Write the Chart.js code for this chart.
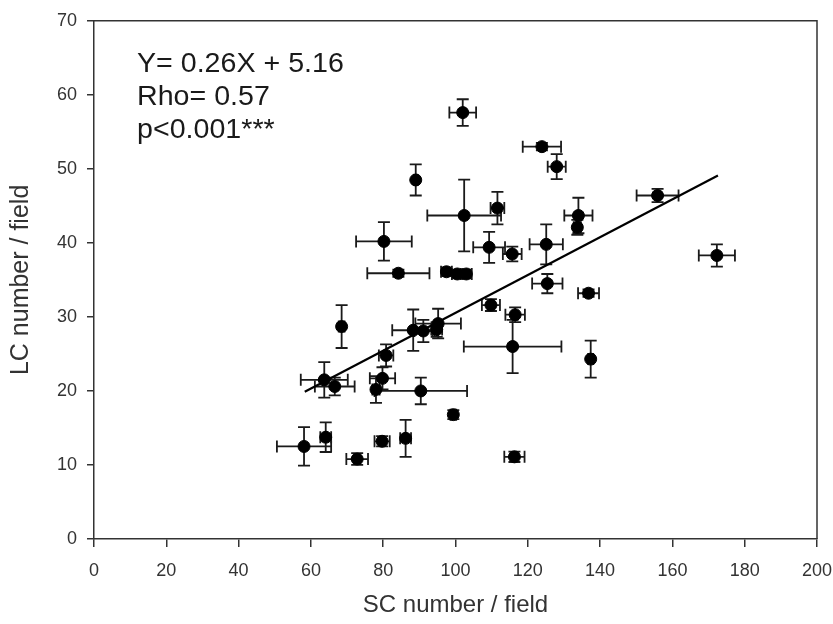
<!DOCTYPE html>
<html>
<head>
<meta charset="utf-8">
<script src="https://cdn.jsdelivr.net/npm/chart.js@4/dist/chart.umd.min.js"></script>
<style>
  body { margin: 0; background: #fff; }
  #chart { display: block; }
</style>
</head>
<body>
<canvas id="chart" width="833" height="624"></canvas>
<script>
// SC and LC counts per field (mean), with their error bars
var scNumber = [102.0, 89.0, 102.4, 111.6, 80.2, 109.3, 115.7, 84.2, 97.5, 100.5, 103.0,
                68.5, 88.3, 91.1, 95.2, 94.8, 80.8, 109.8, 116.5, 115.8, 63.7, 66.6,
                79.8, 78.0, 90.4, 99.4, 58.1, 64.1, 72.8, 79.7, 86.2, 116.3,
                123.9, 128.0, 155.9, 134.0, 133.7, 125.1, 125.4, 136.8, 172.3, 137.4];
var lcNumber = [57.6, 48.5, 43.7, 44.7, 40.2, 39.4, 38.5, 35.9, 36.1, 35.8, 35.8,
                28.7, 28.2, 28.1, 29.1, 28.3, 24.8, 31.6, 30.3, 26.0, 21.5, 20.6,
                21.7, 20.2, 20.0, 16.8, 12.5, 13.75, 10.8, 13.2, 13.6, 11.1,
                53.0, 50.3, 46.4, 43.7, 42.1, 39.8, 34.5, 33.2, 38.3, 24.3];
var scError = [3.7, 0.5, 10.2, 1.9, 7.7, 4.4, 2.6, 8.6, 1.5, 1.5, 1.5,
               0.8, 5.8, 2.5, 6.3, 1.5, 2.0, 2.5, 2.7, 13.5, 6.5, 5.5,
               3.5, 1.0, 12.8, 0.8, 7.5, 1.5, 3.0, 2.1, 1.5, 2.8,
               5.3, 2.5, 5.8, 3.9, 1.0, 4.6, 4.2, 2.9, 5.0, 0.7];
var lcError = [1.8, 2.1, 4.85, 2.2, 2.6, 2.1, 1.0, 0.5, 0.6, 0.6, 0.6,
               2.9, 2.8, 1.5, 2.0, 1.0, 1.5, 0.8, 1.0, 3.6, 2.4, 1.2,
               1.5, 1.8, 1.8, 0.6, 2.6, 2.0, 0.8, 0.7, 2.5, 0.7,
               0.5, 1.7, 0.9, 2.4, 1.0, 2.7, 1.3, 0.5, 1.5, 2.5];

// regression line ends, as drawn
var fitX = [58.3, 172.6];
var fitY = [19.9, 49.1];

var statsText = ['Y= 0.26X + 5.16', 'Rho= 0.57', 'p<0.001***'];

var points = scNumber.map(function (x, i) { return { x: x, y: lcNumber[i] }; });
var fitLine = fitX.map(function (x, i) { return { x: x, y: fitY[i] }; });

/* error bars under the points */
const errorBars = {
    id: 'errorBars',
    beforeDatasetsDraw(chart) {
        const ctx = chart.ctx, xs = chart.scales.x, ys = chart.scales.y;
        const cap = 6;
        ctx.save();
        ctx.strokeStyle = '#1a1a1a';
        ctx.lineWidth = 1.8;
        for (let i = 0; i < scNumber.length; i++) {
            const px = xs.getPixelForValue(scNumber[i]);
            const py = ys.getPixelForValue(lcNumber[i]);
            const xl = xs.getPixelForValue(scNumber[i] - scError[i]);
            const xr = xs.getPixelForValue(scNumber[i] + scError[i]);
            const yt = ys.getPixelForValue(lcNumber[i] + lcError[i]);
            const yb = ys.getPixelForValue(lcNumber[i] - lcError[i]);
            ctx.beginPath();
            ctx.moveTo(xl, py); ctx.lineTo(xr, py);
            ctx.moveTo(xl, py - cap); ctx.lineTo(xl, py + cap);
            ctx.moveTo(xr, py - cap); ctx.lineTo(xr, py + cap);
            ctx.moveTo(px, yt); ctx.lineTo(px, yb);
            ctx.moveTo(px - cap, yt); ctx.lineTo(px + cap, yt);
            ctx.moveTo(px - cap, yb); ctx.lineTo(px + cap, yb);
            ctx.stroke();
        }
        ctx.restore();
    }
};

/* top and right frame lines + stats text */
const frameAndText = {
    id: 'frameAndText',
    afterDraw(chart) {
        const ctx = chart.ctx, a = chart.chartArea;
        ctx.save();
        ctx.strokeStyle = '#333';
        ctx.lineWidth = 1.5;
        ctx.beginPath();
        ctx.moveTo(a.left, a.top); ctx.lineTo(a.right, a.top); ctx.lineTo(a.right, a.bottom);
        ctx.stroke();
        ctx.fillStyle = '#1a1a1a';
        ctx.font = '27px "Liberation Sans", Arial, sans-serif';
        ctx.textBaseline = 'alphabetic';
        ctx.translate(a.left + 43, a.top + 51);
        ctx.scale(1.06, 1);
        for (let i = 0; i < statsText.length; i++) {
            ctx.fillText(statsText[i], 0, i * 33);
        }
        ctx.restore();
    }
};

const config = {
    type: 'scatter',
    data: {
        datasets: [{
            label: 'LC vs SC',
            data: points,
            backgroundColor: '#000',
            borderColor: '#000',
            pointRadius: 6,
            pointHoverRadius: 6,
            order: 1
        }, {
            label: 'fit',
            data: fitLine,
            showLine: true,
            borderColor: '#000',
            borderWidth: 2.2,
            pointRadius: 0,
            order: 2
        }]
    },
    options: {
        responsive: false,
        animation: false,
        devicePixelRatio: 1,
        layout: { padding: { top: 20, right: 0, left: 0, bottom: 0 } },
        plugins: { legend: { display: false }, tooltip: { enabled: false } },
        scales: {
            x: {
                type: 'linear',
                min: 0, max: 200,
                ticks: { stepSize: 20, color: '#333', padding: 13,
                         font: { family: '"Liberation Sans", Arial', size: 18 } },
                grid: { drawOnChartArea: false, drawTicks: true, tickLength: 8, color: '#333', lineWidth: 1.5 },
                border: { display: true, color: '#333', width: 1.5 },
                title: { display: true, text: 'SC number / field', color: '#333',
                         font: { family: '"Liberation Sans", Arial', size: 24 }, padding: { top: 0, bottom: 4 } },
                afterFit: function (s) { s.height = 85; s.paddingRight = 16; }
            },
            y: {
                type: 'linear',
                min: 0, max: 70,
                ticks: { stepSize: 10, color: '#333', padding: 10,
                         font: { family: '"Liberation Sans", Arial', size: 18 } },
                grid: { drawOnChartArea: false, drawTicks: true, tickLength: 7, color: '#333', lineWidth: 1.5 },
                border: { display: true, color: '#333', width: 1.5 },
                title: { display: true, text: 'LC number / field', color: '#333',
                         font: { family: '"Liberation Sans", Arial', size: 25 }, padding: { top: 6, bottom: 0 } },
                afterFit: function (s) { s.width = 94; }
            }
        }
    },
    plugins: [errorBars, frameAndText]
};

const myChart = new Chart(document.getElementById('chart'), config);
</script>
</body>
</html>
